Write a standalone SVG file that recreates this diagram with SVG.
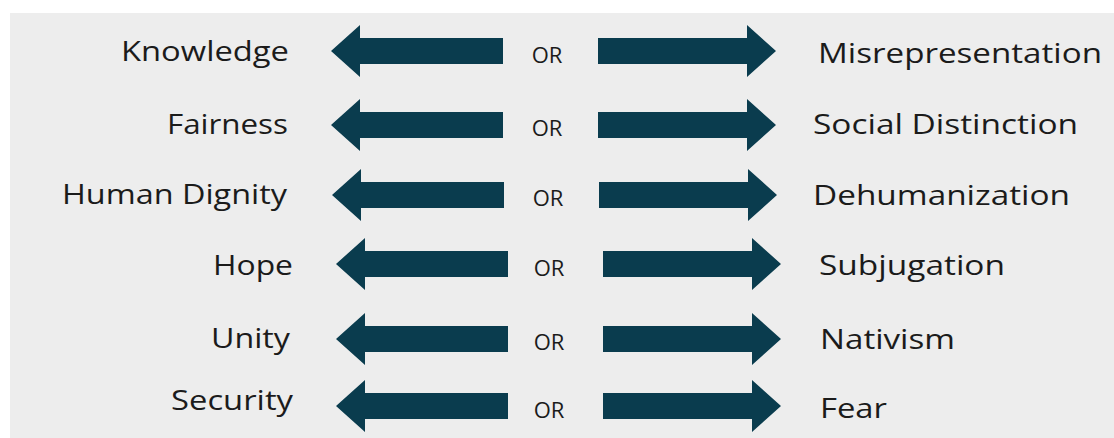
<svg xmlns="http://www.w3.org/2000/svg" width="1114" height="438" viewBox="0 0 1114 438">
<style>
.lbl{font-family:"Open Sans","Liberation Sans",sans-serif;font-size:27px;fill:#1b1b1b}
.or{font-family:"Open Sans","Liberation Sans",sans-serif;font-size:22px;fill:#1b1b1b;text-anchor:middle}
.arr{fill:#0a3c4e}
</style>
<defs>
<path id="la" d="M0 0 L29 -26 L29 -13 L172 -13 L172 13 L29 13 L29 26 Z"/>
<path id="ra" d="M0 -13 L149 -13 L149 -26 L178 0 L149 26 L149 13 L0 13 Z"/>
</defs>
<rect x="0" y="0" width="1114" height="438" fill="#ffffff"/>
<rect x="10" y="13" width="1104" height="425" fill="#ededed"/>
<g id="connectors">
<use href="#la" class="arr" x="331" y="51"/><use href="#ra" class="arr" x="598" y="51"/>
<use href="#la" class="arr" x="331" y="125"/><use href="#ra" class="arr" x="598" y="125"/>
<use href="#la" class="arr" x="332" y="195"/><use href="#ra" class="arr" x="599" y="195"/>
<use href="#la" class="arr" x="336" y="264"/><use href="#ra" class="arr" x="603" y="264"/>
<use href="#la" class="arr" x="336" y="339"/><use href="#ra" class="arr" x="603" y="339"/>
<use href="#la" class="arr" x="336" y="406"/><use href="#ra" class="arr" x="603" y="406"/>
</g>
<g id="row1"><text class="lbl" x="121" y="61" textLength="168" lengthAdjust="spacingAndGlyphs">Knowledge</text><text class="or" x="547" y="63">OR</text><text class="lbl" x="818" y="63" textLength="284" lengthAdjust="spacingAndGlyphs">Misrepresentation</text></g>
<g id="row2"><text class="lbl" x="167" y="134" textLength="121" lengthAdjust="spacingAndGlyphs">Fairness</text><text class="or" x="547" y="136">OR</text><text class="lbl" x="813" y="134" textLength="265" lengthAdjust="spacingAndGlyphs">Social Distinction</text></g>
<g id="row3"><text class="lbl" x="62" y="204" textLength="225" lengthAdjust="spacingAndGlyphs">Human Dignity</text><text class="or" x="548" y="206">OR</text><text class="lbl" x="813" y="205" textLength="257" lengthAdjust="spacingAndGlyphs">Dehumanization</text></g>
<g id="row4"><text class="lbl" x="213" y="275" textLength="80" lengthAdjust="spacingAndGlyphs">Hope</text><text class="or" x="549" y="276">OR</text><text class="lbl" x="819" y="275" textLength="186" lengthAdjust="spacingAndGlyphs">Subjugation</text></g>
<g id="row5"><text class="lbl" x="211" y="348" textLength="79" lengthAdjust="spacingAndGlyphs">Unity</text><text class="or" x="549" y="350">OR</text><text class="lbl" x="820" y="349" textLength="135" lengthAdjust="spacingAndGlyphs">Nativism</text></g>
<g id="row6"><text class="lbl" x="171" y="410" textLength="122" lengthAdjust="spacingAndGlyphs">Security</text><text class="or" x="549" y="418">OR</text><text class="lbl" x="820" y="418" textLength="67" lengthAdjust="spacingAndGlyphs">Fear</text></g>
</svg>
